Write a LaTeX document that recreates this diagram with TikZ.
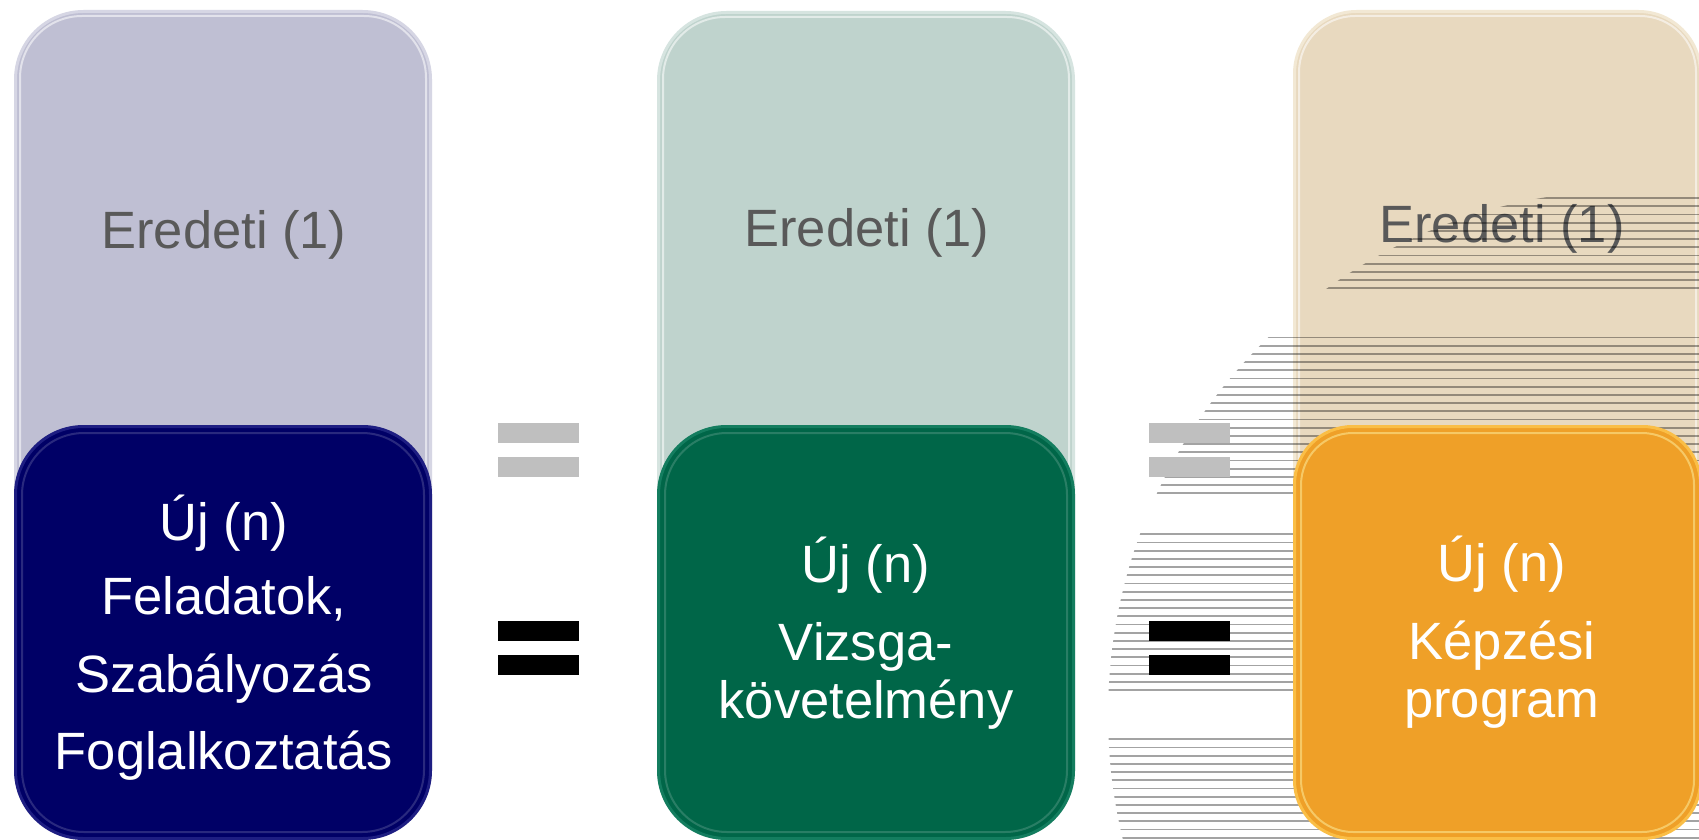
\documentclass[tikz,border=0pt]{standalone}
\usepackage{fontspec}
\setmainfont{Liberation Sans}
\definecolor{lavL}{RGB}{191,191,211}
\definecolor{lavE}{RGB}{214,214,228}
\definecolor{navy}{RGB}{0,0,102}
\definecolor{navyE}{RGB}{30,30,130}
\definecolor{grnL}{RGB}{191,211,205}
\definecolor{grnE}{RGB}{214,228,224}
\definecolor{grnD}{RGB}{0,102,72}
\definecolor{grnDE}{RGB}{20,125,95}
\definecolor{begL}{RGB}{232,217,191}
\definecolor{begE}{RGB}{242,232,212}
\definecolor{orng}{RGB}{239,160,40}
\definecolor{orngE}{RGB}{250,190,70}
\definecolor{txtgray}{RGB}{89,89,89}
\definecolor{eqgray}{RGB}{191,191,191}
\begin{document}
\begin{tikzpicture}[x=1pt,y=-1pt,
  box/.style={rectangle, rounded corners=68pt, line width=3pt, inner sep=0pt,
              anchor=north west, minimum width=415pt},
  lightbox/.style={box, minimum height=826pt},
  darkbox/.style={box, minimum height=412pt},
  gloss/.style={line width=2pt, rounded corners=62pt},
  stripe/.style={line width=1.7pt, draw=black, draw opacity=0.36},
  eredeti/.style={anchor=base, text=txtgray, font=\fontsize{52.5pt}{60pt}\selectfont},
  newtxt/.style={anchor=base, text=white, font=\fontsize{52.5pt}{60pt}\selectfont},
  eqgrey/.style={fill=eqgray},
  eqblack/.style={fill=black}]
\useasboundingbox (0,0) rectangle (1699,840);
\fill[white] (0,0) rectangle (1699,840);

% ---------- column 1 ----------
\node[lightbox, fill=lavL, draw=lavE] (L1) at (14,10) {};
\draw[gloss, white, opacity=.55] ([shift={(6,6)}]L1.north west) rectangle ([shift={(-6,-6)}]L1.south east);
\node[eredeti] (E1) at (224,248) {Eredeti (1)};
\node[darkbox, fill=navy, draw=navyE] (D1) at (14,425) {};
\draw[gloss, white, opacity=.16] ([shift={(8,8)}]D1.north west) rectangle ([shift={(-8,-8)}]D1.south east);
\node[newtxt] (U1) at (224,540) {Új (n)};
\node[newtxt] (F1) at (224,614) {Feladatok,};
\node[newtxt] (S1) at (224,692) {Szabályozás};
\node[newtxt] (G1) at (224,769) {Foglalkoztatás};

% ---------- column 2 ----------
\node[lightbox, fill=grnL, draw=grnE] (L2) at (657,11) {};
\draw[gloss, white, opacity=.55] ([shift={(6,6)}]L2.north west) rectangle ([shift={(-6,-6)}]L2.south east);
\node[eredeti] (E2) at (867,246) {Eredeti (1)};
\node[darkbox, fill=grnD, draw=grnDE] (D2) at (657,425) {};
\draw[gloss, white, opacity=.16] ([shift={(8,8)}]D2.north west) rectangle ([shift={(-8,-8)}]D2.south east);
\node[newtxt] (U2) at (866,582) {Új (n)};
\node[newtxt] (V2) at (866,660) {Vizsga-};
\node[newtxt] (K2) at (866,718) {követelmény};

% ---------- column 3 (light) ----------
\node[lightbox, fill=begL, draw=begE, minimum width=406pt, rounded corners=62pt] (L3) at (1293,10) {};
\draw[gloss, white, opacity=.55, rounded corners=56pt] ([shift={(6,6)}]L3.north west) rectangle ([shift={(-6,-6)}]L3.south east);
\node[eredeti] (E3) at (1502,242) {Eredeti (1)};

% ---------- striped decoration ----------
\begin{scope}
  \clip (1633,715) circle (525pt);
  \foreach \a/\b in {-41/-30,-24/-5,0/19,25/37}{
    \foreach \k in {\a,...,\b}{
      \draw[stripe] (1050,{534.3+8.2*\k}) -- (1710,{534.3+8.2*\k});
    }
  }
\end{scope}

% ---------- column 3 (dark) ----------
\node[darkbox, fill=orng, draw=orngE, minimum width=406pt, rounded corners=58pt] (D3) at (1293,425) {};
\draw[gloss, white!70!yellow, opacity=.45, rounded corners=52pt] ([shift={(8,8)}]D3.north west) rectangle ([shift={(-8,-8)}]D3.south east);
\node[newtxt] (U3) at (1502,581) {Új (n)};
\node[newtxt] (K3) at (1502,659) {Képzési};
\node[newtxt] (P3) at (1502,717) {program};

% ---------- equals signs ----------
\fill[eqgrey] (498,423) rectangle (579,443);
\fill[eqgrey] (498,457) rectangle (579,477);
\fill[eqblack] (498,621) rectangle (579,641);
\fill[eqblack] (498,655) rectangle (579,675);
\fill[eqgrey] (1149,423) rectangle (1230,443);
\fill[eqgrey] (1149,457) rectangle (1230,477);
\fill[eqblack] (1149,621) rectangle (1230,641);
\fill[eqblack] (1149,655) rectangle (1230,675);
\end{tikzpicture}
\end{document}
